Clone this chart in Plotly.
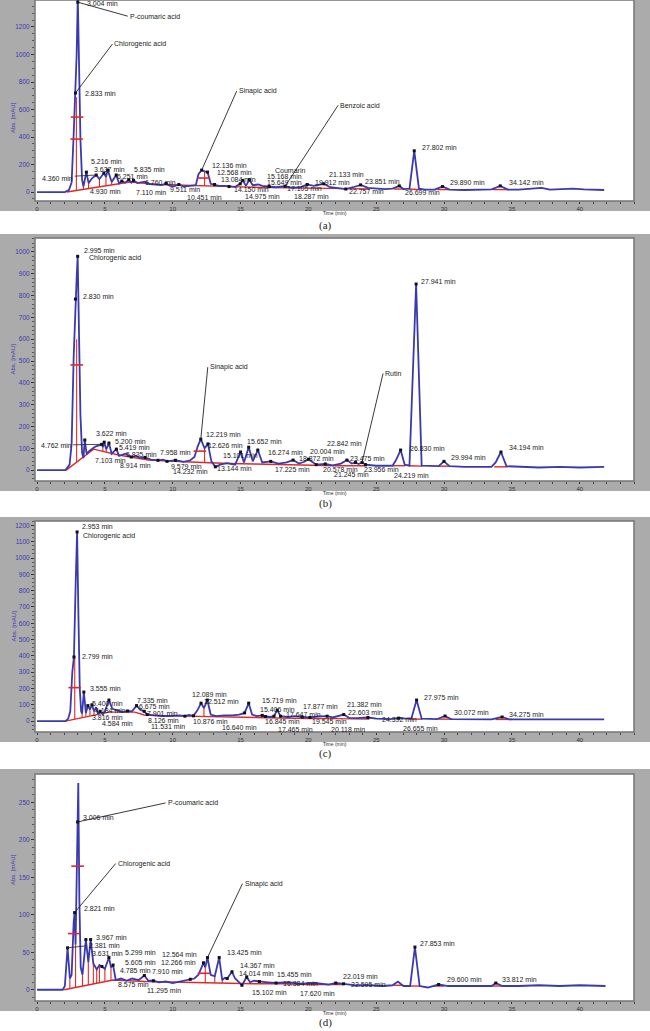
import plotly.graph_objects as go

W, H = 650, 1031

# ---------------- chromatogram (a) ----------------
a_time = [0, 2.05, 2.35, 2.55, 2.7, 2.833, 2.92, 3.004, 3.09, 3.2, 3.32, 3.42, 3.637, 3.8, 4.05, 4.36, 4.6,
          4.93, 5.08, 5.216, 5.5, 5.835, 6.05, 6.251, 6.5, 6.76, 6.95, 7.11, 7.4, 7.93, 8.3, 8.8, 9.2, 9.511,
          9.8, 10.1, 10.451, 10.8, 11.3, 11.7, 11.9, 12.136, 12.35, 12.568, 12.8, 13.084, 13.4, 13.8, 14.15,
          14.6, 14.975, 15.168, 15.4, 15.649, 15.9, 16.3, 16.6, 17.105, 17.6, 18.287, 18.8, 19.4, 19.912,
          20.4, 21.133, 21.6, 22.2, 22.757, 23.3, 23.851, 24.4, 25.0, 25.6, 26.2, 26.699, 27.0, 27.45,
          27.802, 28.15, 28.6, 29.3, 29.89, 30.4, 31.5, 32.5, 33.5, 34.142, 34.7, 35.5, 36.5, 37.2, 37.8,
          38.6, 39.5, 40.3, 41.8]
a_abs = [0, 0, 15, 70, 420, 720, 1000, 1420, 950, 380, 90, 40, 145, 65, 100, 124, 95,
         138, 110, 160, 73, 124, 62, 80, 68, 90, 68, 85, 65, 75, 58, 55, 50, 62,
         45, 42, 55, 40, 45, 50, 130, 160, 150, 145, 60, 55, 45, 45, 40,
         38, 60, 85, 45, 90, 50, 55, 45, 40, 35, 42, 30, 35, 55,
         45, 60, 35, 30, 22, 35, 52, 30, 25, 22, 25, 45, 22, 25,
         300, 25, 18, 18, 40, 18, 15, 18, 20, 45, 18, 18, 22, 30, 18,
         22, 25, 20, 15]
a_base_t = [2.2, 6.85, 9.0, 11.7, 13.2, 15.0, 17.0, 19.0, 21.0, 23.0, 24.5, None, 26.3, 27.1, None,
            27.4, 28.3, None, 29.5, 30.4, None, 33.6, 34.8]
a_base_v = [0, 73, 55, 45, 42, 38, 32, 30, 32, 25, 22, None, 22, 22, None,
            22, 18, None, 18, 18, None, 18, 18]
a_drop_t = [2.9, 3.42, 3.8, 4.6, 5.08, 5.5, 6.05, 12.35]
a_drop_top = [690, 40, 65, 95, 110, 73, 62, 150]
a_drop_bot = [11, 19, 25, 38, 45, 52, 60, 45]
a_wid_t = [2.95, 2.92, 12.3]
a_wid_v = [545, 385, 102]
a_peak_t = [2.833, 3.004, 3.637, 4.36, 4.93, 5.216, 5.835, 6.251, 6.76, 7.11, 9.511, 10.451, 12.136,
            12.568, 13.084, 14.15, 14.975, 15.168, 15.649, 17.105, 18.287, 19.912, 21.133, 22.757,
            23.851, 26.699, 27.802, 29.89, 34.142]
a_peak_v = [720, 1380, 145, 124, 138, 160, 124, 80, 90, 85, 62, 55, 160,
            145, 55, 40, 60, 85, 90, 40, 42, 55, 60, 22,
            52, 45, 300, 40, 45]
a_peak_lbl = ["2.833 min", "3.004 min", "3.637 min", "4.360 min", "4.930 min", "5.216 min", "5.835 min",
              "6.251 min", "6.760 min", "7.110 min", "9.511 min", "10.451 min", "12.136 min",
              "12.568 min", "13.084 min", "14.150 min", "14.975 min", "15.168 min", "15.649 min",
              "17.105 min", "18.287 min", "19.912 min", "21.133 min", "22.757 min", "23.851 min",
              "26.699 min", "27.802 min", "29.890 min", "34.142 min"]
a_cmpd = ["P-coumaric acid", "Chlorogenic acid", "Sinapic acid", "Coumarin", "Benzoic acid"]
a_cmpd_peak = [1, 0, 12, 18, 20]

# ---------------- chromatogram (b) ----------------
b_time = [0, 2.1, 2.4, 2.55, 2.7, 2.83, 2.92, 2.995, 3.08, 3.2, 3.32, 3.42, 3.52, 3.65, 3.9, 4.3, 4.762,
          4.85, 4.95, 5.1, 5.3, 5.5, 5.85, 6.05, 6.5, 6.95, 7.3, 7.6, 7.96, 8.4, 8.914, 9.3, 9.579, 9.9,
          10.2, 10.8, 11.3, 11.6, 11.85, 12.07, 12.35, 12.6, 12.85, 13.144, 13.5, 14.0, 14.6, 15.0,
          15.25, 15.6, 15.9, 16.274, 16.6, 17.225, 17.8, 18.4, 18.872, 19.3, 19.7, 20.004, 20.578, 21.245,
          21.8, 22.4, 22.842, 23.2, 23.475, 23.7, 23.956, 24.219, 25.0, 26.2, 26.45, 26.8, 27.1, 27.45,
          27.941, 28.35, 29.0, 29.6, 29.994, 30.4, 31.5, 33.5, 33.8, 34.194, 34.6, 35.5, 37.0, 38.5,
          40.0, 41.8]
b_abs = [0, 0, 25, 120, 520, 784, 880, 980, 650, 250, 80, 55, 138, 75, 90, 108, 118,
         105, 128, 95, 124, 75, 96, 65, 75, 60, 66, 55, 58, 48, 45, 48, 40, 42,
         45, 38, 45, 60, 110, 142, 100, 120, 40, 15, 25, 32, 25, 83,
         35, 105, 40, 92, 35, 40, 30, 35, 46, 30, 38, 50, 25, 28,
         22, 30, 46, 30, 35, 28, 35, 25, 20, 20, 45, 92, 25, 20,
         853, 20, 18, 18, 40, 18, 15, 15, 35, 83, 18, 15, 12, 15,
         12, 15]
b_base_t = [2.15, 4.17, 6.0, 8.2, 11.3, 12.9, 14.2, 16.0, 18.0, 20.0, 22.0, 24.3, None, 26.2, 27.15,
            None, 27.4, 28.4, None, 29.6, 30.4, None, 33.7, 34.7]
b_base_v = [0, 96, 69, 46, 37, 32, 30, 28, 25, 22, 20, 20, None, 20, 20,
            None, 20, 18, None, 18, 18, None, 15, 15]
b_drop_t = [2.92, 3.42, 3.65, 4.85, 5.1, 5.5, 6.05, 12.35]
b_drop_top = [600, 55, 75, 105, 95, 75, 65, 100]
b_drop_bot = [37, 60, 71, 86, 82, 76, 69, 33]
b_wid_t = [2.93, 12.0]
b_wid_v = [482, 87]
b_peak_t = [2.83, 2.995, 3.52, 4.762, 4.95, 5.3, 5.85, 6.95, 7.96, 8.914, 9.579, 10.2, 12.07, 12.6,
            13.144, 15.0, 15.6, 16.274, 17.225, 18.872, 20.004, 20.578, 21.245, 22.842, 23.475, 23.956,
            24.219, 26.8, 27.941, 29.994, 34.194]
b_peak_v = [784, 980, 138, 118, 128, 124, 96, 60, 58, 45, 40, 45, 142, 120,
            15, 83, 105, 92, 40, 46, 50, 25, 28, 46, 35, 35,
            25, 92, 853, 40, 83]
b_peak_lbl = ["2.830 min", "2.995 min", "3.622 min", "4.762 min", "5.200 min", "5.419 min", "5.835 min",
              "7.103 min", "7.958 min", "8.914 min", "9.579 min", "14.232 min", "12.219 min",
              "12.626 min", "13.144 min", "15.101 min", "15.652 min", "16.274 min", "17.225 min",
              "18.872 min", "20.004 min", "20.578 min", "21.245 min", "22.842 min", "23.475 min",
              "23.956 min", "24.219 min", "26.830 min", "27.941 min", "29.994 min", "34.194 min"]
b_cmpd = ["Chlorogenic acid", "Sinapic acid", "Rutin"]
b_cmpd_peak = [1, 12, 25]

# ---------------- chromatogram (c) ----------------
c_time = [0, 2.1, 2.3, 2.45, 2.6, 2.72, 2.85, 2.953, 3.05, 3.15, 3.25, 3.32, 3.45, 3.6, 3.75, 3.9, 4.05,
          4.2, 4.35, 4.5, 4.65, 4.85, 5.0, 5.3, 5.55, 6.0, 6.3, 6.675, 7.0, 7.335, 7.6, 7.9, 8.126, 8.6,
          9.2, 9.8, 10.5, 10.9, 11.2, 11.531, 11.85, 12.089, 12.3, 12.55, 12.8, 13.2, 13.8, 14.4, 14.9,
          15.3, 15.6, 15.85, 16.2, 16.6, 16.845, 17.2, 17.465, 17.7, 17.95, 18.5, 19.0, 19.545, 20.118,
          20.7, 21.382, 21.8, 22.603, 23.0, 23.6, 24.392, 25.0, 26.0, 26.655, 27.2, 27.6, 27.975, 28.35,
          29.5, 30.072, 30.5, 32.0, 33.5, 34.275, 34.8, 36.0, 38.0, 40.0, 41.8]
c_abs = [0, 0, 15, 60, 300, 393, 850, 1160, 650, 200, 60, 45, 178, 50, 95, 70, 100,
         60, 85, 40, 60, 40, 60, 129, 75, 60, 55, 62, 60, 95, 70, 60, 40, 35,
         30, 30, 35, 30, 38, 32, 70, 110, 80, 129, 40, 30, 35, 35, 40,
         50, 110, 40, 30, 35, 28, 25, 30, 67, 30, 25, 30, 25, 22,
         28, 30, 22, 40, 20, 18, 22, 15, 12, 18, 15, 18, 129, 15,
         12, 31, 12, 10, 10, 25, 10, 10, 12, 10, 10]
c_base_t = [2.1, 5.3, 7.2, 7.9, 10.0, 12.0, 14.0, 16.0, 18.0, 20.0, 22.0, 24.5, None, 27.4, 28.4, None,
            29.6, 30.6, None, 33.8, 35.0]
c_base_v = [0, 55, 55, 37, 32, 28, 25, 22, 18, 15, 15, 12, None, 12, 12, None,
            12, 12, None, 10, 10]
c_drop_t = [2.78, 3.32, 3.6, 3.9, 4.2, 4.5, 4.85, 12.3]
c_drop_top = [400, 45, 50, 70, 60, 40, 40, 80]
c_drop_bot = [12, 21, 26, 31, 36, 41, 47, 28]
c_wid_t = [2.78]
c_wid_v = [205]
c_peak_t = [2.72, 2.953, 3.45, 3.75, 4.05, 4.65, 5.3, 6.675, 7.335, 7.9, 8.126, 10.9, 11.531, 12.089,
            12.55, 15.3, 15.6, 16.6, 16.845, 17.465, 17.7, 17.95, 19.545, 20.118, 21.382, 22.603,
            24.392, 26.655, 27.975, 30.072, 34.275]
c_peak_v = [393, 1160, 178, 95, 100, 60, 129, 62, 95, 60, 40, 30, 32, 110,
            129, 50, 110, 35, 28, 30, 67, 30, 25, 22, 30, 40,
            22, 18, 129, 31, 25]
c_peak_lbl = ["2.799 min", "2.953 min", "3.555 min", "3.816 min", "4.184 min", "4.584 min", "5.400 min",
              "6.675 min", "7.335 min", "7.901 min", "8.126 min", "10.876 min", "11.531 min",
              "12.089 min", "12.512 min", "15.406 min", "15.719 min", "16.640 min", "16.845 min",
              "17.465 min", "17.647 min", "17.877 min", "19.545 min", "20.118 min", "21.382 min",
              "22.603 min", "24.392 min", "26.655 min", "27.975 min", "30.072 min", "34.275 min"]
c_cmpd = ["Chlorogenic acid"]
c_cmpd_peak = [1]

# ---------------- chromatogram (d) ----------------
d_time = [0, 1.9, 2.05, 2.25, 2.42, 2.55, 2.7, 2.77, 2.84, 2.92, 2.99, 3.04, 3.12, 3.22, 3.35, 3.6, 3.78,
          3.95, 4.15, 4.4, 4.6, 4.785, 5.0, 5.299, 5.45, 5.605, 5.8, 6.2, 6.6, 7.0, 7.5, 7.91, 8.2,
          8.575, 9.0, 9.5, 10.0, 10.5, 11.0, 11.295, 11.6, 11.9, 12.266, 12.4, 12.564, 12.8, 13.1,
          13.425, 13.65, 13.85, 14.014, 14.367, 14.6, 14.9, 15.102, 15.455, 15.7, 16.0, 16.384, 17.0,
          17.62, 18.5, 19.5, 20.5, 21.5, 22.019, 22.595, 23.5, 24.5, 25.5, 26.2, 26.6, 27.0, 27.5,
          27.853, 28.2, 28.8, 29.6, 30.3, 31.5, 32.5, 33.5, 33.812, 34.3, 35.5, 37.0, 38.5, 40.0, 41.9]
d_abs = [0, 0, 5, 56, 15, 20, 90, 103, 60, 150, 224, 276, 120, 30, 20, 67, 37,
         67, 35, 27, 33, 31, 28, 43, 30, 33, 13, 15, 12, 15, 13, 19, 12,
         12, 10, 11, 9, 11, 13, 14, 15, 20, 36, 30, 43, 20, 18,
         43, 13, 16, 15, 24, 15, 10, 6, 17, 10, 12, 11, 10,
         9, 10, 8, 9, 7, 9, 8, 6, 6, 5, 6, 11, 5, 5,
         57, 5, 3, 7, 5, 5, 6, 5, 9, 5, 5, 6, 5, 6, 5]
d_base_t = [2.0, 5.6, 8.0, 10.0, 12.0, 14.0, 16.0, 18.0, 20.0, 22.6, None, 26.3, 27.0, None, 27.5, 28.3,
            None, 29.2, 30.0, None, 33.4, 34.3]
d_base_v = [0, 13, 11, 10, 9, 9, 8, 8, 7, 7, None, 6, 6, None, 5, 5,
            None, 5, 5, None, 5, 5]
d_drop_t = [2.42, 2.84, 3.35, 3.78, 4.15, 4.4, 4.6, 5.0, 5.45, 12.4, 13.1, 13.65]
d_drop_top = [15, 60, 20, 37, 35, 27, 33, 28, 30, 30, 18, 13]
d_drop_bot = [1.5, 3, 5, 6.4, 7.7, 8.6, 9.4, 10.8, 12.4, 9, 9, 9]
d_wid_t = [2.99, 2.75, 12.3]
d_wid_v = [165, 75, 22]
d_peak_t = [2.25, 2.77, 2.99, 3.6, 3.95, 4.785, 5.299, 5.605, 7.91, 8.575, 11.295, 12.266, 12.564,
            13.425, 14.014, 14.367, 15.102, 15.455, 16.384, 17.62, 22.019, 22.595, 27.853, 29.6, 33.812]
d_peak_v = [56, 103, 224, 67, 67, 31, 43, 33, 19, 12, 14, 36, 43,
            43, 15, 24, 6, 17, 11, 9, 9, 8, 57, 7, 9]
d_peak_lbl = ["2.381 min", "2.821 min", "3.006 min", "3.631 min", "3.967 min", "4.785 min", "5.299 min",
              "5.605 min", "7.910 min", "8.575 min", "11.295 min", "12.266 min", "12.564 min",
              "13.425 min", "14.014 min", "14.367 min", "15.102 min", "15.455 min", "16.384 min",
              "17.620 min", "22.019 min", "22.595 min", "27.853 min", "29.600 min", "33.812 min"]
d_cmpd = ["P-coumaric acid", "Chlorogenic acid", "Sinapic acid"]
d_cmpd_peak = [2, 1, 12]

x_ticks = [0, 5, 10, 15, 20, 25, 30, 35, 40]

# ---------------- layout of the four screenshots (pixels) ----------------
# label offsets: (dx to text left edge, dy to text centre, leader line?)
panels = [
    dict(cap="(a)", data=(a_time, a_abs, a_base_t, a_base_v, a_drop_t, a_drop_top, a_drop_bot,
                          a_wid_t, a_wid_v, a_peak_t, a_peak_v, a_peak_lbl, a_cmpd, a_cmpd_peak),
         frame=(0, 211), plot=(0, 201), yr=[-65, 1396], yt=list(range(0, 1201, 200)), ym=50, cap_y=225,
         lbl=[(8, 0, 0), (7, 1, 0), (6, -3, 0), (-56, 3, 1), (-16, 18, 0), (-19, -9, 0), (16, -6, 0),
              (-7, -5, 0), (14, 3, 0), (0, 12, 0), (2, 5.5, 0), (6, 12.6, 0), (8, -5, 0), (7, 0, 0),
              (4, -5.4, 0), (3, 2.5, 0), (3, 13, 0), (22, -4, 0), (16, 3, 0), (16, 1.5, 0), (7, 10, 0),
              (6, -2.4, 0), (3, -9.7, 0), (1, 2, 0), (2, -3, 0), (4, 7, 0), (6, -3, 0), (5, -4, 0),
              (7, -3, 0)],
         cmp=[(50, 14, 1), (37, -49, 1), (35, -79, 1), (24, -9, 0), (53, -81, 1)]),
    dict(cap="(b)", data=(b_time, b_abs, b_base_t, b_base_v, b_drop_t, b_drop_top, b_drop_bot,
                          b_wid_t, b_wid_v, b_peak_t, b_peak_v, b_peak_lbl, b_cmpd, b_cmpd_peak),
         frame=(234, 491), plot=(238, 481), yr=[-50, 1064], yt=list(range(0, 1001, 100)), ym=20, cap_y=503,
         lbl=[(6, -3, 0), (4, -6, 0), (9, -6, 0), (-63, 1, 1), (9, -1, 0), (8, 4, 0), (8, 5, 0),
              (-38, 3, 0), (13, -5, 0), (-40, 5, 0), (2, 5, 0), (-4, 11, 0), (3, -5, 0), (-2, 2, 0),
              (0, 2, 0), (-20, 4, 0), (-4, -6, 0), (8, 2, 0), (2, 8, 0), (4, -2, 0), (0, -8, 0),
              (5, 4.5, 0), (7, 11, 0), (-22, -17, 0), (-8, -4, 0), (0, 7, 0), (26, 11, 0), (7, -2, 0),
              (3, -3, 0), (5, -4, 0), (6, -4, 0)],
         cmp=[(9, 2, 0), (7, -72, 1), (21, -89, 1)]),
    dict(cap="(c)", data=(c_time, c_abs, c_base_t, c_base_v, c_drop_t, c_drop_top, c_drop_bot,
                          c_wid_t, c_wid_v, c_peak_t, c_peak_v, c_peak_lbl, c_cmpd, c_cmpd_peak),
         frame=(517, 742), plot=(521, 732), yr=[-67, 1227], yt=list(range(0, 1201, 100)), ym=25, cap_y=753,
         lbl=[(6, 0, 0), (3, -5, 0), (4, -4, 0), (2, 11.5, 0), (1, 5.3, 0), (0, 12, 0), (-19, 3, 0),
              (9, -4, 0), (-2, -5.5, 0), (1, 2, 0), (-1, 5.5, 0), (6, 5, 0), (-44, 11, 0), (-11, -9, 0),
              (-5, 1, 0), (13, -3, 0), (11, -3, 0), (-42, 12, 0), (-3, 4.6, 0), (2, 13, 0), (7, 4, 0),
              (20, -10, 0), (8, 4, 0), (19, 11.6, 0), (18, -12, 0), (2, -2.5, 0), (12, 1.6, 0),
              (2, 10, 0), (5, -3, 0), (7, -4, 0), (5, -3, 0)],
         cmp=[(4, 4, 0)]),
    dict(cap="(d)", data=(d_time, d_abs, d_base_t, d_base_v, d_drop_t, d_drop_top, d_drop_bot,
                          d_wid_t, d_wid_v, d_peak_t, d_peak_v, d_peak_lbl, d_cmpd, d_cmpd_peak),
         frame=(769, 1011), plot=(774, 1001), yr=[-15, 288], yt=list(range(0, 251, 50)), ym=10, cap_y=1022,
         lbl=[(19, -2, 1), (7, -4, 0), (3, -4, 0), (4, 14, 0), (3, -2, 0), (16, 4, 0), (14, -5, 0),
              (10, -3, 0), (6, -4, 0), (-37, 4, 0), (-45, 11.5, 0), (-44, 0, 0), (-48, -3, 0), (6, -5, 0),
              (10, -4.7, 0), (6, -6, 0), (8, 7, 0), (28, -3, 0), (22, 2.3, 0), (22, 10, 0), (5, -7, 0),
              (5, 1, 0), (3, -4, 0), (6, -5, 0), (4, -4, 0)],
         cmp=[(88, -19, 1), (41, -49, 1), (35, -74, 1)]),
]

PLOT_L, PLOT_R = 35, 634
BLUE = "#3a3ab0"
RED = "#e02828"
GRAY = "#ababab"
LBL_FONT = dict(family="Liberation Sans", size=7, color="#1a1a1a")

fig = go.Figure()
shapes, annotations = [], []
layout = {}


def py(p):
    return 1 - p / H


# white gaps between the grey screenshots (captions live there)
prev = None
for p in panels:
    if prev is not None:
        shapes.append(dict(type="rect", xref="paper", yref="paper", x0=0, x1=1, y0=py(p["frame"][0]),
                           y1=py(prev), fillcolor="white", line=dict(width=0), layer="below"))
    prev = p["frame"][1]
shapes.append(dict(type="rect", xref="paper", yref="paper", x0=0, x1=1, y0=0, y1=py(prev),
                   fillcolor="white", line=dict(width=0), layer="below"))

for i, p in enumerate(panels, start=1):
    (t, v, bt, bv, dt, dtop, dbot, wt, wv, pt, pv, plbl, cmpd, cpk) = p["data"]
    xa, ya = ("x" if i == 1 else f"x{i}"), ("y" if i == 1 else f"y{i}")
    ptop, pbot = p["plot"]

    shapes.append(dict(type="rect", xref="paper", yref="paper", x0=PLOT_L / W, x1=PLOT_R / W,
                       y0=py(pbot), y1=py(ptop), fillcolor="white",
                       line=dict(color="#767676", width=1.5), layer="below"))

    # baseline (red)
    fig.add_trace(go.Scatter(x=bt, y=bv, mode="lines", line=dict(color=RED, width=1.4),
                             xaxis=xa, yaxis=ya, hoverinfo="skip", connectgaps=False))
    # drop lines
    xs, ys = [], []
    for tt, top, bot in zip(dt, dtop, dbot):
        xs += [tt, tt, None]
        ys += [bot, top, None]
    fig.add_trace(go.Scatter(x=xs, y=ys, mode="lines", line=dict(color=RED, width=1.1),
                             xaxis=xa, yaxis=ya, hoverinfo="skip"))
    # signal
    fig.add_trace(go.Scatter(x=t, y=v, mode="lines", line=dict(color=BLUE, width=1.8),
                             xaxis=xa, yaxis=ya, name="signal"))
    # peak-width marks
    fig.add_trace(go.Scatter(x=wt, y=wv, mode="markers", xaxis=xa, yaxis=ya, hoverinfo="skip",
                             marker=dict(symbol="line-ew", size=9, line=dict(color=RED, width=1.6))))
    # apex markers
    fig.add_trace(go.Scatter(x=pt, y=pv, mode="markers", xaxis=xa, yaxis=ya, text=plbl,
                             marker=dict(symbol="square", size=3, color="#111")))

    for (tt, vv, lab), (dx, dy, arrow) in zip(zip(pt, pv, plbl), p["lbl"]):
        if arrow:
            annotations.append(dict(x=tt, y=vv, xref=xa, yref=ya, text=lab, showarrow=True, ax=dx, ay=dy,
                                    xanchor="left", yanchor="middle", arrowhead=0, arrowwidth=0.8,
                                    arrowcolor="#222", standoff=0, font=LBL_FONT))
        else:
            annotations.append(dict(x=tt, y=vv, xref=xa, yref=ya, text=lab, showarrow=False,
                                    xanchor="left", yanchor="middle", xshift=dx, yshift=-dy, font=LBL_FONT))
    for name, k, (dx, dy, arrow) in zip(cmpd, cpk, p["cmp"]):
        if arrow:
            annotations.append(dict(x=pt[k], y=pv[k], xref=xa, yref=ya, text=name, showarrow=True,
                                    ax=dx, ay=dy, xanchor="left", yanchor="middle", arrowhead=0,
                                    arrowwidth=0.9, arrowcolor="#222", standoff=0, font=LBL_FONT))
        else:
            annotations.append(dict(x=pt[k], y=pv[k], xref=xa, yref=ya, text=name, showarrow=False,
                                    xanchor="left", yanchor="middle", xshift=dx, yshift=-dy,
                                    font=LBL_FONT))

    annotations.append(dict(x=0.5, y=py(p["cap_y"]), xref="paper", yref="paper", text=p["cap"],
                            showarrow=False, yanchor="middle",
                            font=dict(family="Liberation Serif", size=11, color="#222")))
    annotations.append(dict(x=8 / W, y=py((ptop + pbot) / 2), xref="paper", yref="paper",
                            text="Abs. [mAU]", textangle=-90, showarrow=False,
                            font=dict(family="Liberation Sans", size=6, color="#3a3ab0")))

    layout["xaxis" if i == 1 else f"xaxis{i}"] = dict(
        domain=[PLOT_L / W, PLOT_R / W], anchor=ya, range=[-0.15, 44.0],
        tickmode="array", tickvals=x_ticks, ticks="outside", ticklen=2, tickcolor="#333",
        tickfont=dict(size=6, color="#333"), showgrid=False, zeroline=False, showline=False,
        minor=dict(tickmode="linear", tick0=0, dtick=1, ticks="outside", ticklen=2, tickcolor="#444"),
        title=dict(text="Time (min)", font=dict(size=5, color="#333"), standoff=0))
    layout["yaxis" if i == 1 else f"yaxis{i}"] = dict(
        domain=[py(pbot), py(ptop)], anchor=xa, range=p["yr"],
        tickmode="array", tickvals=p["yt"], ticks="outside", ticklen=3, tickcolor="#333",
        tickfont=dict(size=6.5, color="#3a3ab0"), showgrid=False, zeroline=False, showline=False,
        minor=dict(tickmode="linear", tick0=0, dtick=p["ym"], ticks="outside", ticklen=2,
                   tickcolor="#555"))

fig.update_layout(
    width=W, height=H, autosize=False, margin=dict(l=0, r=0, t=0, b=0),
    paper_bgcolor=GRAY, plot_bgcolor="rgba(0,0,0,0)", showlegend=False,
    font=dict(family="Liberation Sans"), shapes=shapes, annotations=annotations, **layout)

fig.write_html("out.html", config={"displayModeBar": False},
               post_script="document.body.style.margin='0px';")
